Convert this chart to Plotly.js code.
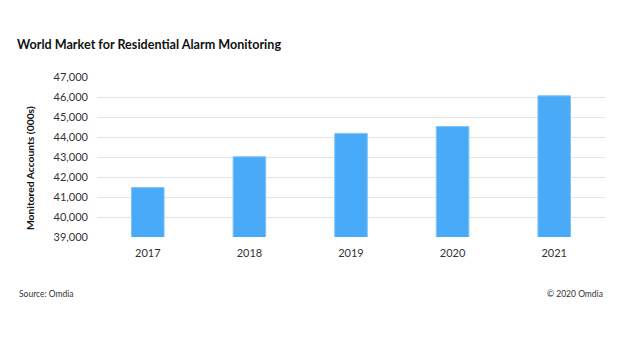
<!DOCTYPE html>
<html><head><meta charset="utf-8">
<script src="https://cdn.plot.ly/plotly-3.0.1.min.js"></script>
<style>html,body{margin:0;padding:0;background:#fff;}#chart{width:640px;height:360px;}</style>
</head><body><div id="chart"></div>
<script>
const years = ['2017','2018','2019','2020','2021'];
const accounts = [41470, 43010, 44180, 44520, 46060];
const yTicks = [39000,40000,41000,42000,43000,44000,45000,46000,47000];

const trace = {
  type: 'bar', x: years, y: accounts,
  marker: {color: '#49abf8', line: {color: '#7cc2fa', width: 1}},
  hoverinfo: 'skip'
};
const layout = {
  width: 640, height: 360,
  margin: {l: 97, r: 35, t: 77, b: 123},
  paper_bgcolor: '#fff', plot_bgcolor: '#fff',
  bargap: 0.68,
  font: {family: 'Lato, "Open Sans", sans-serif', color: '#333', size: 11},
  title: {text: '<b>World Market for Residential Alarm Monitoring</b>', x: 17/640, xanchor: 'left', y: 1-45/360, yanchor: 'middle', font: {size: 12.6, color: '#111', family: 'Lato, sans-serif'}},
  xaxis: {type: 'category', showgrid: false, zeroline: false, showline: false, ticks: '', ticklabelstandoff: 8, tickfont: {size: 11, color: '#333'}},
  yaxis: {range: [39000, 47000], tickvals: yTicks, tickformat: ',d', gridcolor: '#e3e3e3', gridwidth: 1, zeroline: false, showline: false, ticks: '', ticklen: 0, ticklabelstandoff: 8, tickfont: {size: 11, color: '#333'}},
  annotations: [
    {text: '<b>Monitored Accounts (000s)</b>', xref: 'paper', yref: 'paper', x: -67/508, y: (237-168)/160, xanchor: 'center', yanchor: 'middle', textangle: -90, showarrow: false, font: {size: 10.3, color: '#111'}},
    {text: 'Source: Omdia', xref: 'paper', yref: 'paper', x: -80/508, y: -57/160, xanchor: 'left', yanchor: 'middle', showarrow: false, font: {size: 8.5, color: '#333'}},
    {text: '© 2020 Omdia', xref: 'paper', yref: 'paper', x: 1, y: -57/160, xanchor: 'right', yanchor: 'middle', showarrow: false, font: {size: 8.5, color: '#333'}}
  ],
  showlegend: false
};
Plotly.newPlot('chart', [trace], layout, {displayModeBar: false, staticPlot: true});
</script></body></html>
